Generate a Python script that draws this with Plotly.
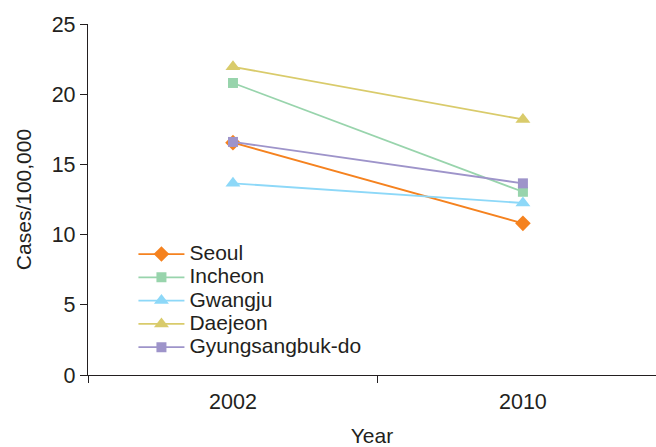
import plotly.graph_objects as go

years = ["2002", "2010"]
regions = ["Seoul", "Incheon", "Gwangju", "Daejeon", "Gyungsangbuk-do"]
seoul = [16.55, 10.8]
incheon = [20.8, 13.05]
gwangju = [13.65, 12.25]
daejeon = [21.95, 18.2]
gyungsangbuk = [16.6, 13.65]

series_values = [seoul, incheon, gwangju, daejeon, gyungsangbuk]
colors = ["#F5821F", "#98D4AC", "#8DD8F8", "#D9CB6B", "#9E94CA"]
symbols = ["diamond", "square", "triangle-up", "triangle-up", "square"]
sizes = [12, 10, 13, 13, 10]

fig = go.Figure()
for name, vals, col, sym, sz in zip(regions, series_values, colors, symbols, sizes):
    fig.add_trace(go.Scatter(
        x=years, y=vals, mode="lines+markers",
        # larger label text while keeping compact legend row spacing
        name=f'<span style="font-size:21px">{name}</span>',
        line=dict(color=col, width=1.8),
        marker=dict(symbol=sym, color=col, size=sz),
    ))

font_family = "Liberation Sans, Arial, sans-serif"
fig.update_layout(
    width=656, height=447,
    margin=dict(l=88, r=0, t=24, b=72),
    paper_bgcolor="white", plot_bgcolor="white",
    font=dict(family=font_family, size=21, color="#231F20"),
    showlegend=True,
    legend=dict(x=0.08, y=0.392, xanchor="left", yanchor="top",
                bgcolor="rgba(0,0,0,0)", font=dict(size=15.6),
                tracegroupgap=0, itemwidth=46),
    xaxis=dict(
        type="category", range=[-0.5, 1.459], automargin=False,
        showline=True, linecolor="#231F20", linewidth=1.3,
        ticks="outside", tickson="boundaries", ticklen=7, tickcolor="#231F20",
        ticklabelstandoff=7, tickfont=dict(size=21.5),
        showgrid=False, zeroline=False,
        title=dict(text="Year", standoff=22, font=dict(size=21)),
    ),
    yaxis=dict(
        range=[0, 25], tickvals=[0, 5, 10, 15, 20, 25], automargin=False,
        showline=True, linecolor="#231F20", linewidth=1.3,
        ticks="outside", ticklen=7, tickcolor="#231F20",
        tickfont=dict(size=21.5),
        showgrid=False, zeroline=False,
        title=dict(text="Cases/100,000", standoff=14, font=dict(size=21)),
    ),
)

fig.write_html("out.html")
